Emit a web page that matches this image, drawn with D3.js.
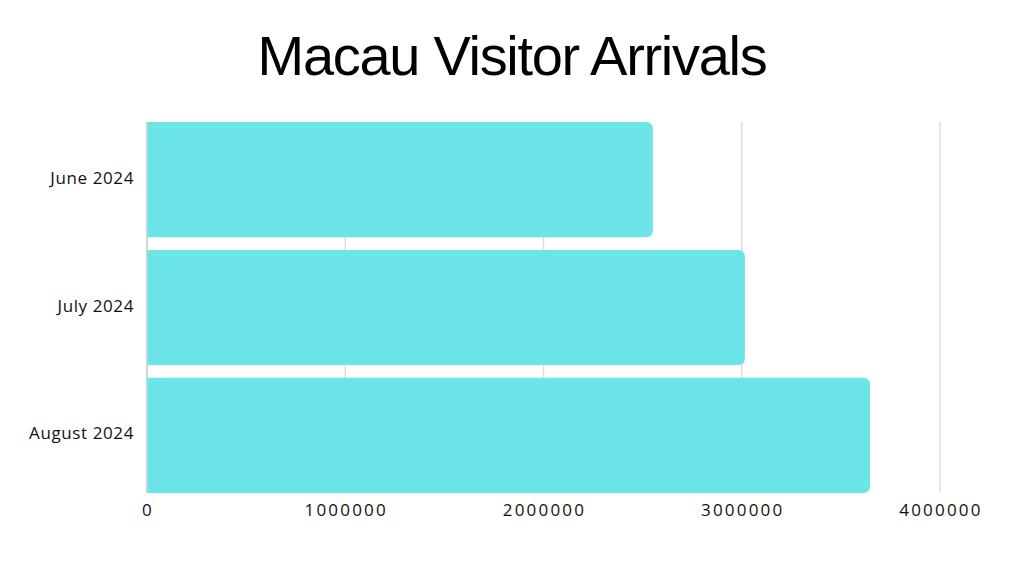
<!DOCTYPE html>
<html><head><meta charset="utf-8">
<script src="https://cdn.jsdelivr.net/npm/d3@7"></script>
<style>body{margin:0;background:#fff;} svg{display:block;}</style>
</head><body>
<svg id="chart" width="1024" height="576"></svg>
<script>
const categories = ["June 2024", "July 2024", "August 2024"];
const values = [2552000, 3016000, 3647000];
const tickValues = [0, 1000000, 2000000, 3000000, 4000000];
const title = "Macau Visitor Arrivals";

const svg = d3.select("#chart");
const W = 1024, H = 576;
svg.append("rect").attr("width", W).attr("height", H).attr("fill", "#fff");

const x = d3.scaleLinear().domain([0, 4000000]).range([147, 940]);
const y = d3.scaleBand().domain(categories).range([122, 493]).paddingInner(0.1).paddingOuter(0);

svg.append("text").attr("x", 512).attr("y", 75).attr("text-anchor", "middle")
  .attr("font-family", "Liberation Sans, Arial, sans-serif").attr("font-size", 56)
  .attr("letter-spacing", "-1.3").attr("fill", "#000").text(title);

// gridlines
svg.append("g").selectAll("line").data(tickValues.slice(1)).join("line")
  .attr("x1", d => x(d)).attr("x2", d => x(d)).attr("y1", 122).attr("y2", 493)
  .attr("stroke", "#dedede").attr("stroke-width", 1.5);

// y axis line
svg.append("line").attr("x1", x(0)).attr("x2", x(0)).attr("y1", 122).attr("y2", 493)
  .attr("stroke", "#aaa").attr("stroke-width", 1);

// bars with right rounded corners
const r = 7;
function barPath(d, i) {
  const x0 = x(0) + 0.5, x1 = x(d), y0 = y(categories[i]), h = y.bandwidth();
  return `M${x0},${y0} H${x1 - r} Q${x1},${y0} ${x1},${y0 + r} V${y0 + h - r} Q${x1},${y0 + h} ${x1 - r},${y0 + h} H${x0} Z`;
}
svg.append("g").selectAll("path").data(values).join("path")
  .attr("d", barPath).attr("fill", "#6be5e8");

// category labels
svg.append("g").selectAll("text").data(categories).join("text")
  .attr("x", 134).attr("y", d => y(d) + y.bandwidth() / 2 + 4)
  .attr("text-anchor", "end").attr("font-family", "Open Sans, sans-serif").attr("font-size", 17)
  .attr("letter-spacing", "0.6").attr("fill", "#111").text(d => d);

// tick labels
svg.append("g").selectAll("text").data(tickValues).join("text")
  .attr("x", d => x(d) + 1).attr("y", 516).attr("text-anchor", "middle")
  .attr("font-family", "Open Sans, sans-serif").attr("font-size", 17).attr("letter-spacing", "2.2")
  .attr("fill", "#111").text(d => d3.format("d")(d));
</script>
</body></html>
